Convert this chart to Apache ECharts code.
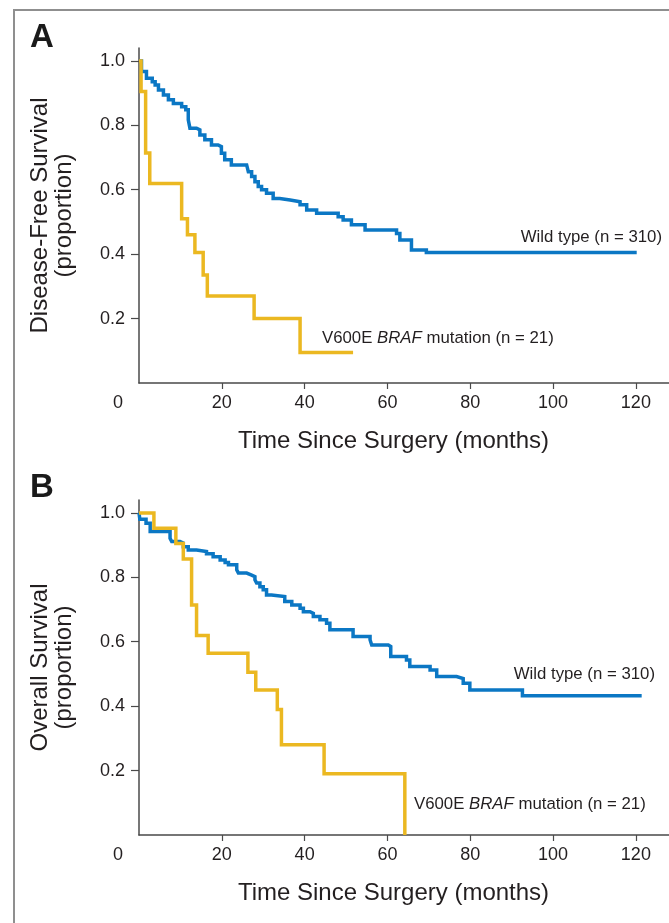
<!DOCTYPE html>
<html>
<head>
<meta charset="utf-8">
<title>Survival by BRAF status</title>
<script src="https://cdn.jsdelivr.net/npm/echarts@6/dist/echarts.min.js"></script>
<style>
  html, body { margin: 0; padding: 0; background: #fff; }
  #chart { width: 669px; height: 923px; }
</style>
</head>
<body>
<div id="chart"></div>
<script>
// Kaplan-Meier steps: [months, proportion surviving after the drop]
const dfsWildType = [
  [0, 1.0], [0.6, 0.967], [1.8, 0.946], [3.2, 0.935], [3.9, 0.925], [4.7, 0.91],
  [5.9, 0.894], [7.1, 0.879], [8.3, 0.868], [10.3, 0.858], [11.3, 0.848],
  [11.9, 0.817], [12.3, 0.791], [13.9, 0.786], [14.7, 0.77], [15.9, 0.755],
  [17.5, 0.739], [19.1, 0.734], [19.9, 0.713], [20.7, 0.693], [22.3, 0.677],
  [26.0, 0.672], [26.4, 0.656], [27.2, 0.641], [28.0, 0.625], [28.8, 0.61],
  [29.6, 0.60], [30.8, 0.589], [32.4, 0.573], [34.0, 0.568], [36.5, 0.563],
  [38.9, 0.553], [40.5, 0.537], [42.9, 0.527], [48.1, 0.516], [49.3, 0.506],
  [51.3, 0.491], [54.6, 0.475], [62.2, 0.464], [63.0, 0.444], [65.8, 0.413],
  [69.4, 0.405], [120.2, 0.405]
];
const dfsBraf = [
  [0, 1.0], [0.5, 0.905], [1.6, 0.714], [2.6, 0.619], [10.3, 0.51], [11.7, 0.46],
  [13.5, 0.405], [15.5, 0.335], [16.5, 0.27], [27.8, 0.2], [38.9, 0.095], [51.7, 0.095]
];
const osWildType = [
  [0, 1.0], [0.2, 0.98], [1.7, 0.968], [2.7, 0.942], [7.5, 0.921], [7.9, 0.911],
  [9.9, 0.906], [10.7, 0.895], [11.9, 0.885], [13.9, 0.88], [16.3, 0.873],
  [17.9, 0.864], [19.6, 0.854], [20.8, 0.846], [21.6, 0.839], [23.6, 0.823],
  [24.0, 0.813], [26.0, 0.807], [27.2, 0.802], [28.0, 0.792], [28.4, 0.782],
  [29.2, 0.771], [30.0, 0.761], [30.8, 0.745], [32.0, 0.74], [35.2, 0.725],
  [36.9, 0.714], [38.9, 0.704], [39.7, 0.693], [41.3, 0.688], [42.1, 0.678],
  [43.7, 0.668], [45.3, 0.657], [46.1, 0.637], [51.7, 0.616], [55.8, 0.606],
  [56.2, 0.59], [60.2, 0.585], [60.8, 0.554], [64.6, 0.543], [65.4, 0.523],
  [70.3, 0.512], [71.9, 0.492], [76.7, 0.486], [78.3, 0.471], [79.9, 0.45],
  [92.6, 0.432], [121.4, 0.432]
];
const osBraf = [
  [0, 1.0], [3.6, 0.952], [8.9, 0.905], [10.7, 0.857], [12.7, 0.714], [13.9, 0.619],
  [16.7, 0.564], [26.3, 0.505], [28.2, 0.45], [33.4, 0.39], [34.4, 0.28],
  [44.7, 0.19], [64.2, 0.0]
];

const xTickValues = [20, 40, 60, 80, 100, 120];
const xLabelValues = [0, 20, 40, 60, 80, 100, 120];
const yTickValues = [0.2, 0.4, 0.6, 0.8, 1.0];

const panelLetters = ['A', 'B'];
const yTitles = ['Disease-Free Survival\n(proportion)', 'Overall Survival\n(proportion)'];
const xTitle = 'Time Since Surgery (months)';
const wildLabel = 'Wild type (n = 310)';
const brafLabel = ['V600E ', 'BRAF', ' mutation (n = 21)'];

const BLUE = '#0b77c4';
const GOLD = '#ebb821';
const AXIS = '#4a4a4a';
const TEXT = '#231f20';
const FONT = '"Liberation Sans", Arial, sans-serif';
const NOTE_SIZE = 16.8;

const chart = echarts.init(document.getElementById('chart'), null, { renderer: 'canvas' });

function xAxisFor(gridIndex) {
  return {
    type: 'value', gridIndex, min: 0, max: 128, interval: 20,
    axisLine: { show: true, lineStyle: { color: AXIS, width: 1.5 } },
    axisTick: { show: true, customValues: xTickValues, length: 6, inside: false,
      lineStyle: { color: AXIS, width: 1.2 } },
    splitLine: { show: false },
    axisLabel: {
      customValues: xLabelValues, margin: 11,
      fontFamily: FONT, fontSize: 18, color: TEXT,
      formatter: v => (v === 0 ? '{z|0}' : String(v)),
      rich: { z: { fontFamily: FONT, fontSize: 18, color: TEXT, padding: [0, 42, 0, 0] } }
    },
    name: xTitle, nameLocation: 'middle', nameGap: 46,
    nameTextStyle: { fontFamily: FONT, fontSize: 24, color: TEXT, padding: [0, 21, 0, 0] }
  };
}

function yAxisFor(gridIndex) {
  return {
    type: 'value', gridIndex, min: 0, max: 1.04, interval: 0.2,
    axisLine: { show: true, lineStyle: { color: AXIS, width: 1.5 } },
    axisTick: { show: true, customValues: yTickValues, length: 8,
      lineStyle: { color: AXIS, width: 1.2 } },
    splitLine: { show: false },
    axisLabel: {
      customValues: yTickValues, margin: 14,
      fontFamily: FONT, fontSize: 18, color: TEXT,
      formatter: v => v.toFixed(1)
    },
    name: yTitles[gridIndex], nameLocation: 'middle', nameRotate: 90, nameGap: 63,
    nameTextStyle: { fontFamily: FONT, fontSize: 24, color: TEXT, lineHeight: 24 }
  };
}

function curve(data, color, idx, z) {
  return {
    type: 'line', xAxisIndex: idx, yAxisIndex: idx, data, step: 'end',
    showSymbol: false, symbol: 'none', z,
    lineStyle: { color, width: 3.5, cap: 'butt', join: 'miter' },
    silent: true, animation: false
  };
}

function richBraf(x, y) {
  return {
    type: 'text', left: x, top: y,
    style: {
      text: '{n|' + brafLabel[0] + '}{i|' + brafLabel[1] + '}{n|' + brafLabel[2] + '}',
      rich: {
        n: { fontFamily: FONT, fontSize: NOTE_SIZE, fill: TEXT },
        i: { fontFamily: FONT, fontSize: NOTE_SIZE, fontStyle: 'italic', fill: TEXT }
      },
      verticalAlign: 'middle'
    }
  };
}

chart.setOption({
  animation: false,
  backgroundColor: '#ffffff',
  grid: [
    { left: 139, top: 48, width: 530, height: 335 },
    { left: 139, top: 500, width: 530, height: 335 }
  ],
  xAxis: [xAxisFor(0), xAxisFor(1)],
  yAxis: [yAxisFor(0), yAxisFor(1)],
  series: [
    curve(dfsWildType, BLUE, 0, 2),
    curve(dfsBraf, GOLD, 0, 3),
    curve(osWildType, BLUE, 1, 2),
    curve(osBraf, GOLD, 1, 3)
  ],
  graphic: [
    { type: 'rect', shape: { x: 14, y: 10, width: 720, height: 960 },
      style: { fill: 'none', stroke: '#8f8f8f', lineWidth: 2 }, silent: true },
    { type: 'text', left: 30, top: 21,
      style: { text: panelLetters[0], fontFamily: FONT, fontSize: 33, fontWeight: 'bold', fill: '#1a1a1a' } },
    { type: 'text', left: 30, top: 471,
      style: { text: panelLetters[1], fontFamily: FONT, fontSize: 33, fontWeight: 'bold', fill: '#1a1a1a' } },
    { type: 'text', right: 7, top: 229,
      style: { text: wildLabel, fontFamily: FONT, fontSize: NOTE_SIZE, fill: TEXT } },
    { type: 'text', right: 14, top: 666,
      style: { text: wildLabel, fontFamily: FONT, fontSize: NOTE_SIZE, fill: TEXT } },
    richBraf(322, 330),
    richBraf(414, 796)
  ]
});
</script>
</body>
</html>
